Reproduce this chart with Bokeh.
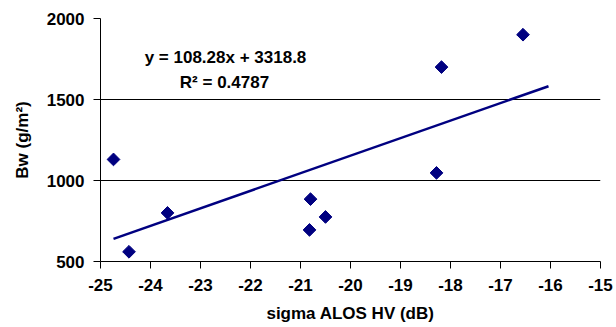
import math
from bokeh.plotting import figure
from bokeh.models import Range1d, FixedTicker, Label
from bokeh.embed import file_html
from bokeh.resources import INLINE

# data
sigma_hv = [-24.74, -24.43, -23.66, -20.80, -20.82, -20.50, -18.28, -18.18, -16.55]
bw = [1130, 560, 800, 885, 695, 775, 1047, 1700, 1900]

slope = 108.28
intercept = 3318.8
trend_x = [-24.74, -16.04]
trend_y = [slope * v + intercept for v in trend_x]

x_ticks = [-25, -24, -23, -22, -21, -20, -19, -18, -17, -16, -15]
x_tick_labels = ["-25", "-24", "-23", "-22", "-21", "-20", "-19", "-18", "-17", "-16", "-15"]
y_ticks = [500, 1000, 1500, 2000]

FONT = "Liberation Sans"
NAVY = "#000080"
FS = "17px"

p = figure(width=616, height=327, output_backend="svg", toolbar_location=None,
           x_range=Range1d(-25, -15), y_range=Range1d(500, 2000),
           min_border_left=100, min_border_right=16, min_border_top=18, min_border_bottom=66)
p.outline_line_color = None
p.background_fill_color = "white"
p.border_fill_color = "white"

p.xgrid.visible = False
p.ygrid.grid_line_color = "black"
p.ygrid.grid_line_width = 1
p.ygrid.ticker = FixedTicker(ticks=y_ticks)

for ax in (p.xaxis[0], p.yaxis[0]):
    ax.axis_line_color = "black"
    ax.axis_line_width = 1
    ax.major_tick_line_color = "black"
    ax.major_tick_out = 7
    ax.major_tick_in = 0
    ax.minor_tick_line_color = None
    ax.major_label_text_font = FONT
    ax.major_label_text_font_style = "bold"
    ax.major_label_text_font_size = FS
    ax.major_label_text_color = "black"
    ax.axis_label_text_font = FONT
    ax.axis_label_text_font_style = "bold"
    ax.axis_label_text_font_size = FS
    ax.axis_label_text_color = "black"

p.xaxis.ticker = FixedTicker(ticks=x_ticks)
p.xaxis.major_label_overrides = dict(zip(x_ticks, x_tick_labels))
p.yaxis.ticker = FixedTicker(ticks=y_ticks)
p.xaxis.axis_label = "sigma ALOS HV (dB)"
p.yaxis.axis_label = "Bw (g/m²)"
p.xaxis.major_label_standoff = 10
p.yaxis.major_label_standoff = 9
p.xaxis.axis_label_standoff = 10
p.yaxis.axis_label_standoff = 12

p.line(trend_x, trend_y, line_color=NAVY, line_width=2.5)
p.scatter(sigma_hv, bw, marker="square", size=9, angle=math.pi / 4,
          fill_color=NAVY, line_color=NAVY)

p.add_layout(Label(x=-22.5, y=1758, text="y = 108.28x + 3318.8", text_align="center",
                   text_baseline="middle", text_font=FONT, text_font_style="bold",
                   text_font_size=FS, text_color="black"))
p.add_layout(Label(x=-22.52, y=1603, text="R² = 0.4787", text_align="center",
                   text_baseline="middle", text_font=FONT, text_font_style="bold",
                   text_font_size=FS, text_color="black"))

open("out.html", "w").write(file_html(p, INLINE))
